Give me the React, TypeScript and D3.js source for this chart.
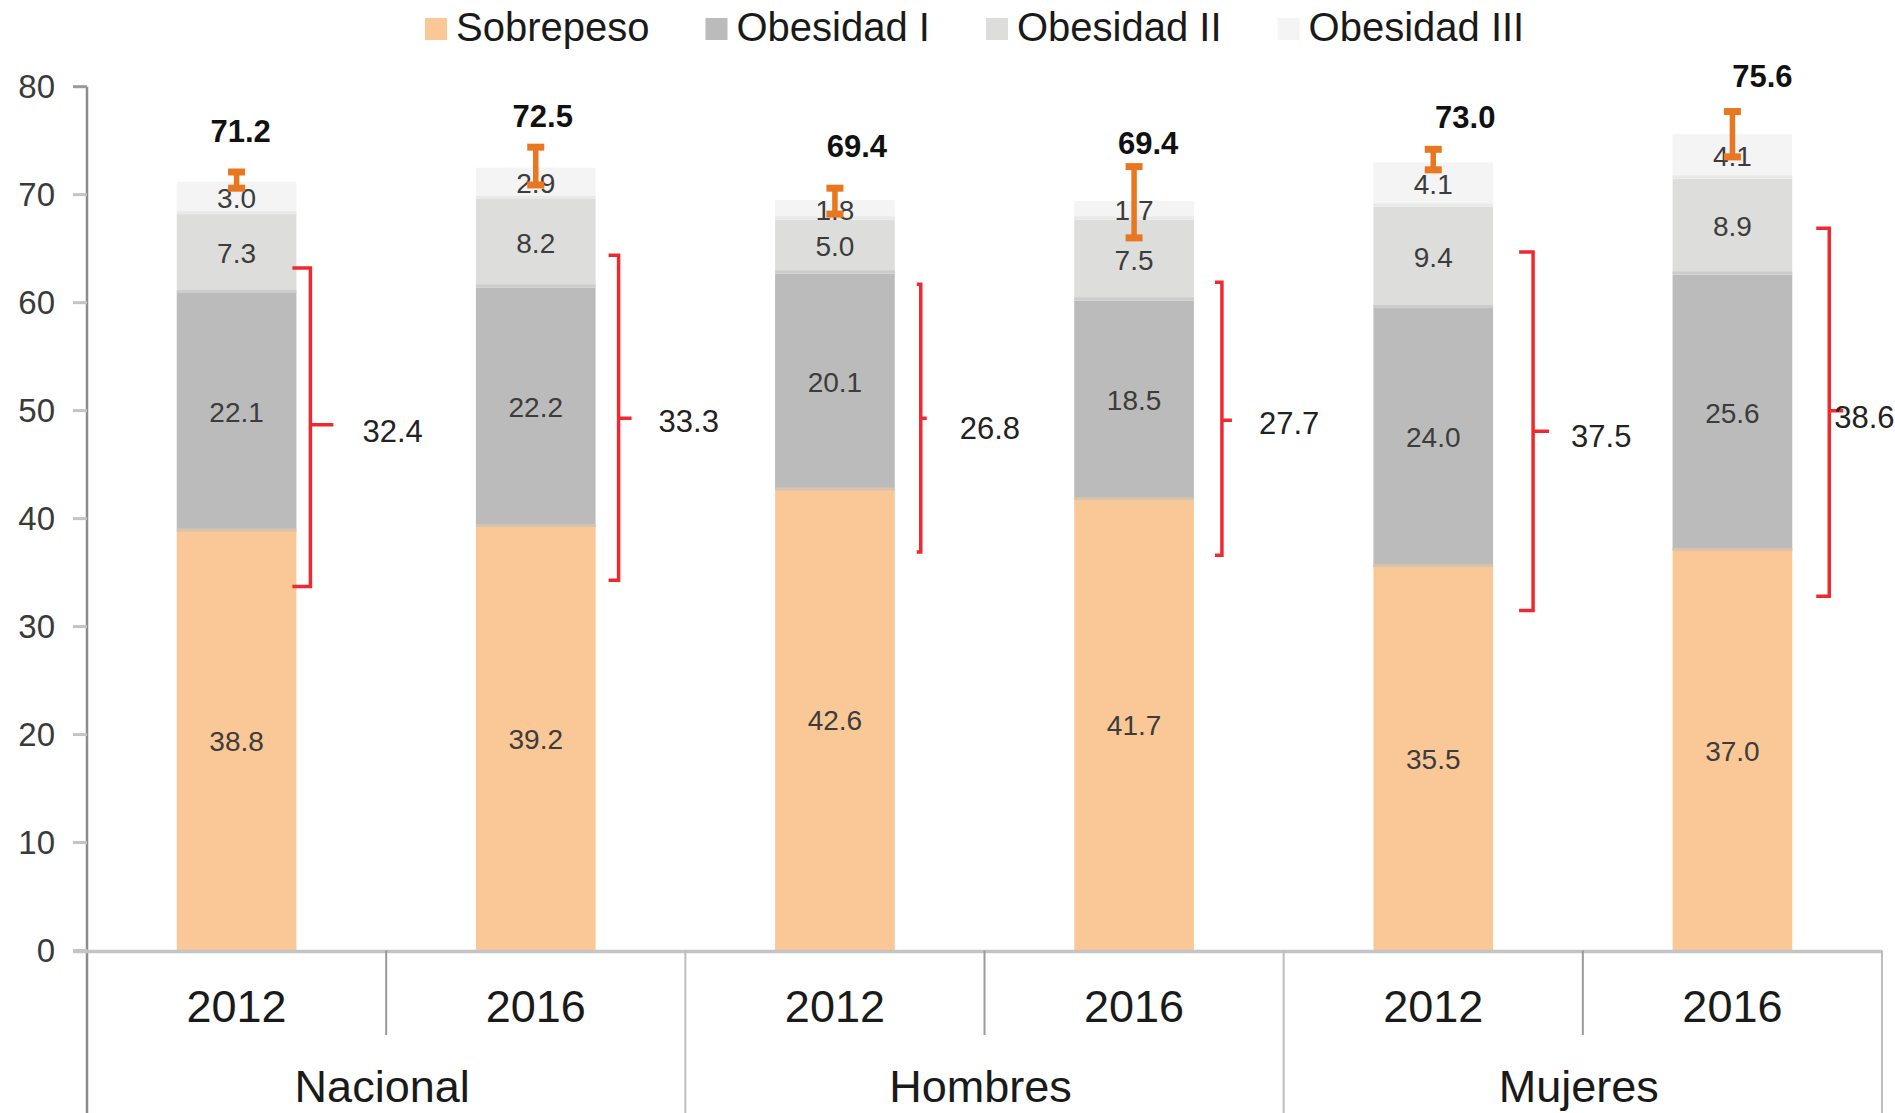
import React, { useEffect, useRef } from 'react';
import * as d3 from 'd3';

// ---------- data ----------
const groups = ['Nacional', 'Hombres', 'Mujeres'];
const years = ['2012', '2016', '2012', '2016', '2012', '2016'];
const seriesNames = ['Sobrepeso', 'Obesidad I', 'Obesidad II', 'Obesidad III'];
const sobrepeso = [38.8, 39.2, 42.6, 41.7, 35.5, 37.0];
const obesidadI = [22.1, 22.2, 20.1, 18.5, 24.0, 25.6];
const obesidadII = [7.3, 8.2, 5.0, 7.5, 9.4, 8.9];
const obesidadIII = [3.0, 2.9, 1.8, 1.7, 4.1, 4.1];
const totals = ['71.2', '72.5', '69.4', '69.4', '73.0', '75.6'];
const obesityTotals = ['32.4', '33.3', '26.8', '27.7', '37.5', '38.6'];
const ciLow = [70.6, 70.9, 68.2, 66.0, 72.3, 73.5];
const ciHigh = [72.1, 74.4, 70.6, 72.6, 74.2, 77.7];
const yTicks = [0, 10, 20, 30, 40, 50, 60, 70, 80];

// ---------- annotation placement (hand-placed in the original) ----------
const totalLabelAt = [75.9, 77.3, 74.5, 74.8, 77.2, 81.0];
const totalLabelDx = [4, 7, 22, 14, 32, 30];
const bracketTop = [63.2, 64.4, 61.7, 61.9, 64.7, 66.9];
const bracketBottom = [33.7, 34.3, 36.9, 36.6, 31.5, 32.8];
const bracketMid = [48.7, 49.3, 49.3, 49.1, 48.1, 50.0];
const bracketDx = [14, 23, 26, 28, 40, 37];
const bracketCap = [18, 10, 4, 7, 14, 13];
const bracketTick = [23, 13, 6, 10, 16, 14];
const obesityLabelDx = [52, 40, 39, 37, 38, 5];
const obesityLabelAt = [48.1, 49.0, 48.4, 48.8, 47.6, 49.4];

const colors = ['#FAC896', '#BBBBBB', '#DDDDDC', '#F3F4F3'];
const FONT = '"Liberation Sans", Arial, Helvetica, sans-serif';

export default function App() {
  const ref = useRef<SVGSVGElement>(null);

  useEffect(() => {
    const svg = d3.select(ref.current);
    svg.selectAll('*').remove();

    const H = 1113;
    const left = 87;
    const right = 1882;
    const y = d3.scaleLinear().domain([0, 80]).range([950.5, 86.7]);
    const x = d3
      .scaleBand<number>()
      .domain(d3.range(years.length))
      .range([left, right])
      .paddingInner(0.6)
      .paddingOuter(0.3);
    const step = x.step();
    const bw = x.bandwidth();

    const g = svg.append('g').attr('font-family', FONT);

    // ----- legend -----
    const leg = g.append('g');
    let lx = 425;
    seriesNames.forEach((name, i) => {
      leg
        .append('rect')
        .attr('x', lx)
        .attr('y', 18)
        .attr('width', 22)
        .attr('height', 22)
        .attr('fill', colors[i]);
      const t = leg
        .append('text')
        .attr('x', lx + 31)
        .attr('y', 41)
        .attr('font-size', 40)
        .attr('fill', '#1a1a1a')
        .text(name);
      const tw = (t.node() as SVGTextElement).getComputedTextLength();
      lx = lx + 31 + tw + 56;
    });

    // ----- y axis -----
    g.append('line')
      .attr('x1', left)
      .attr('x2', left)
      .attr('y1', y(80))
      .attr('y2', H)
      .attr('stroke', '#8c8c8c')
      .attr('stroke-width', 2.5);
    yTicks.forEach((v) => {
      g.append('line')
        .attr('x1', 73)
        .attr('x2', left)
        .attr('y1', y(v))
        .attr('y2', y(v))
        .attr('stroke', v === 80 ? '#9a9a9a' : '#c4c4c4')
        .attr('stroke-width', 3);
      g.append('text')
        .attr('x', 55)
        .attr('y', y(v))
        .attr('dy', '0.35em')
        .attr('text-anchor', 'end')
        .attr('font-size', 33)
        .attr('fill', '#3a3a3a')
        .text(String(v));
    });

    // ----- bars -----
    const series = [sobrepeso, obesidadI, obesidadII, obesidadIII];
    const stackData = years.map((_, i) => {
      const o: any = { i };
      series.forEach((s, k) => (o['s' + k] = s[i]));
      return o;
    });
    const stack = d3.stack<any>().keys(series.map((_, k) => 's' + k));
    const stacked = stack(stackData);

    stacked.forEach((layer, k) => {
      layer.forEach((d) => {
        const i = d.data.i;
        const x0 = x(i)!;
        g.append('rect')
          .attr('x', x0)
          .attr('y', y(d[1]))
          .attr('width', bw)
          .attr('height', y(d[0]) - y(d[1]))
          .attr('fill', colors[k]);
      });
    });
    // segment boundaries
    stacked.forEach((layer, k) => {
      if (k === 0) return;
      const mix = d3.interpolateRgb(colors[k - 1], colors[k])(0.5);
      layer.forEach((d) => {
        const i = d.data.i;
        const x0 = x(i)!;
        g.append('line')
          .attr('x1', x0)
          .attr('x2', x0 + bw)
          .attr('y1', y(d[0]) - 1.5)
          .attr('y2', y(d[0]) - 1.5)
          .attr('stroke', mix)
          .attr('stroke-width', 3);
      });
    });
    // segment labels
    stacked.forEach((layer, k) => {
      layer.forEach((d) => {
        const i = d.data.i;
        g.append('text')
          .attr('x', x(i)! + bw / 2)
          .attr('y', y((d[0] + d[1]) / 2))
          .attr('dy', '0.35em')
          .attr('text-anchor', 'middle')
          .attr('font-size', 28)
          .attr('fill', '#3c3c3c')
          .text(series[k][i].toFixed(1));
      });
    });

    // ----- error bars -----
    years.forEach((_, i) => {
      const cx = x(i)! + bw / 2;
      const eb = g.append('g').attr('stroke', '#E87722');
      eb.append('line')
        .attr('x1', cx)
        .attr('x2', cx)
        .attr('y1', y(ciHigh[i]))
        .attr('y2', y(ciLow[i]))
        .attr('stroke-width', 5.5);
      [ciHigh[i], ciLow[i]].forEach((v) => {
        eb.append('line')
          .attr('x1', cx - 8.5)
          .attr('x2', cx + 8.5)
          .attr('y1', y(v))
          .attr('y2', y(v))
          .attr('stroke-width', 7);
      });
    });

    // ----- total labels -----
    years.forEach((_, i) => {
      g.append('text')
        .attr('x', x(i)! + bw / 2 + totalLabelDx[i])
        .attr('y', y(totalLabelAt[i]))
        .attr('dy', '0.35em')
        .attr('text-anchor', 'middle')
        .attr('font-size', 31)
        .attr('font-weight', 'bold')
        .attr('fill', '#111')
        .text(totals[i]);
    });

    // ----- obesity brackets -----
    years.forEach((_, i) => {
      const bx = x(i)! + bw + bracketDx[i];
      const yt = y(bracketTop[i]);
      const yb = y(bracketBottom[i]);
      const ym = y(bracketMid[i]);
      const c = bracketCap[i];
      const p = d3.path();
      p.moveTo(bx - c, yt);
      p.lineTo(bx, yt);
      p.lineTo(bx, yb);
      p.lineTo(bx - c, yb);
      p.moveTo(bx, ym);
      p.lineTo(bx + bracketTick[i], ym);
      g.append('path')
        .attr('d', p.toString())
        .attr('fill', 'none')
        .attr('stroke', '#EE2A30')
        .attr('stroke-width', 3.5);
      g.append('text')
        .attr('x', bx + obesityLabelDx[i])
        .attr('y', y(obesityLabelAt[i]))
        .attr('dy', '0.35em')
        .attr('font-size', 31)
        .attr('fill', '#222')
        .text(obesityTotals[i]);
    });

    // ----- x axis -----
    g.append('line')
      .attr('x1', 73)
      .attr('x2', right)
      .attr('y1', y(0) + 1)
      .attr('y2', y(0) + 1)
      .attr('stroke', '#c4c4c4')
      .attr('stroke-width', 3.5);
    for (let j = 1; j <= years.length; j++) {
      const bx = left + j * step;
      const isGroup = j % 2 === 0;
      g.append('line')
        .attr('x1', bx)
        .attr('x2', bx)
        .attr('y1', y(0))
        .attr('y2', isGroup ? H : 1035)
        .attr('stroke', isGroup ? '#bdbdbd' : '#9a9a9a')
        .attr('stroke-width', 2);
    }
    years.forEach((yr, i) => {
      g.append('text')
        .attr('x', x(i)! + bw / 2)
        .attr('y', 1021.5)
        .attr('text-anchor', 'middle')
        .attr('font-size', 45)
        .attr('fill', '#1a1a1a')
        .text(yr);
    });
    groups.forEach((gr, k) => {
      g.append('text')
        .attr('x', left + (k * 2 + 1) * step - 4)
        .attr('y', 1102)
        .attr('text-anchor', 'middle')
        .attr('font-size', 45)
        .attr('fill', '#1a1a1a')
        .text(gr);
    });
  }, []);

  return (
    <svg
      ref={ref}
      width={1895}
      height={1113}
      style={{ position: 'absolute', left: 0, top: 0, background: '#fff' }}
    />
  );
}
